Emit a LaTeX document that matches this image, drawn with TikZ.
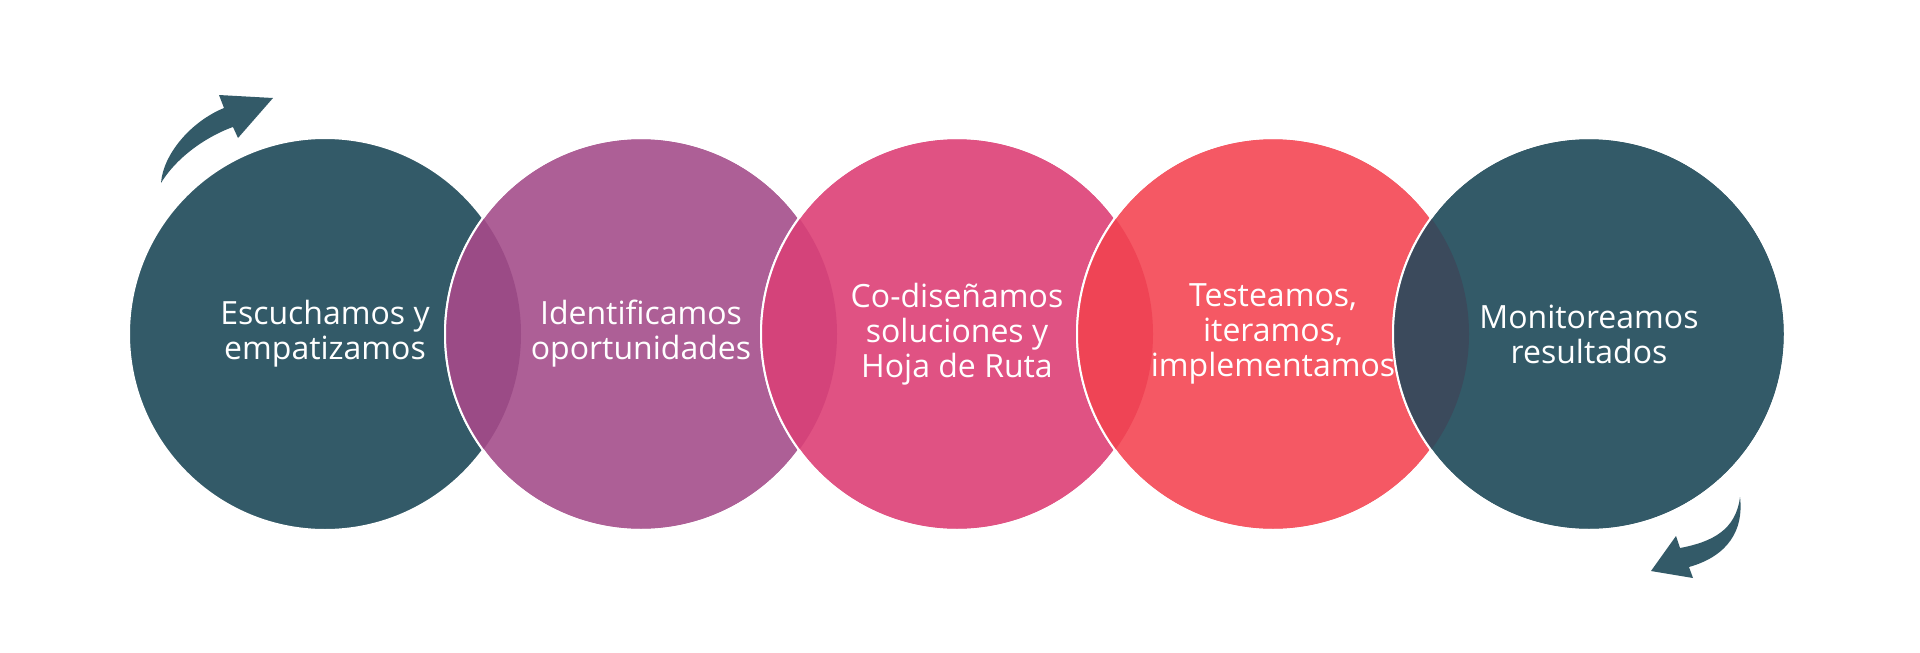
\documentclass[tikz,border=0pt]{standalone}
\usepackage{fontspec}
\setmainfont{Open Sans}
\definecolor{cteal}{HTML}{335A68}
\definecolor{cpurple}{HTML}{AD5F96}
\definecolor{cpink}{HTML}{E05283}
\definecolor{ccoral}{HTML}{F55864}
\definecolor{otp}{HTML}{9B4B86}
\definecolor{opp}{HTML}{D4437A}
\definecolor{opc}{HTML}{EF4455}
\definecolor{oct}{HTML}{3B4A5C}
\tikzset{
  bubble/.style={circle, minimum size=392pt, inner sep=0pt, draw=white, line width=2pt},
  label/.style={text=white, align=center, font=\fontsize{32}{35}\selectfont},
  turn/.style={fill=cteal}
}
\begin{document}
\begin{tikzpicture}[x=1pt,y=-1pt]
\useasboundingbox (0,0) rectangle (1920,653);
% circles and overlaps
\node[bubble, fill=cteal] (c1) at (325,334) {};
\node[bubble, fill=cpurple] (c2) at (641,334) {};
\begin{scope}
  \clip (325,334) circle (196pt);
  \fill[otp] (641,334) circle (196pt);
\end{scope}
\draw[white, line width=2pt] (641,334) circle (196pt);
\node[bubble, fill=cpink] (c3) at (957,334) {};
\begin{scope}
  \clip (641,334) circle (196pt);
  \fill[opp] (957,334) circle (196pt);
\end{scope}
\draw[white, line width=2pt] (957,334) circle (196pt);
\node[bubble, fill=ccoral] (c4) at (1273,334) {};
\begin{scope}
  \clip (957,334) circle (196pt);
  \fill[opc] (1273,334) circle (196pt);
\end{scope}
\draw[white, line width=2pt] (1273,334) circle (196pt);
\node[bubble, fill=cteal] (c5) at (1589,334) {};
\begin{scope}
  \clip (1273,334) circle (196pt);
  \fill[oct] (1589,334) circle (196pt);
\end{scope}
\draw[white, line width=2pt] (1589,334) circle (196pt);
% labels
\node[label] (t1) at (c1) {Escuchamos y\\empatizamos};
\node[label] (t2) at (c2) {Identificamos\\oportunidades};
\node[label] (t3) at (c3) {Co-diseñamos\\soluciones y\\Hoja de Ruta};
\node[label] (t4) at (c4) {Testeamos,\\iteramos,\\implementamos};
\node[label] (t5) at (c5) {Monitoreamos\\resultados};
% curved arrows
\fill[turn] (161,183) .. controls (163,155) and (190,122) .. (224,108)
  -- (219,95) -- (273,98) -- (238,138) -- (233,127)
  .. controls (210,135) and (178,155) .. (161,183) -- cycle;
\fill[turn] (1740,497) .. controls (1744,530) and (1728,556) .. (1689,567)
  -- (1693,578) -- (1651,571) -- (1676,536) -- (1680,548)
  .. controls (1712,542) and (1736,530) .. (1740,497) -- cycle;
\end{tikzpicture}
\end{document}
